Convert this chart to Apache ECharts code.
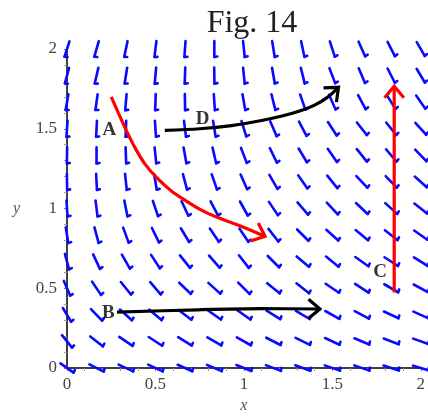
<!DOCTYPE html>
<html><head><meta charset="utf-8">
<script src="https://cdn.jsdelivr.net/npm/echarts@6/dist/echarts.min.js"></script>
<style>html,body{margin:0;padding:0;background:#fff}#c{width:428px;height:419px}</style>
</head><body><div id="c"></div>
<script>
// grid positions of the direction field
const fieldX = [0, 0.167, 0.333, 0.5, 0.667, 0.833, 1, 1.167, 1.333, 1.5, 1.667, 1.833, 2];
const fieldY = [0, 0.167, 0.333, 0.5, 0.667, 0.833, 1, 1.167, 1.333, 1.5, 1.667, 1.833, 2];
// arrow angle (degrees from straight down, + = toward right), one row per fieldY value
const angleRows = [
  [55, 63, 65, 65, 66, 67, 68, 69, 70, 71, 71, 72, 73],
  [39, 52, 56, 57, 58, 60, 61, 63, 64, 65, 67, 69, 70],
  [31, 44, 48, 50, 53, 55, 55, 58, 59, 61, 62, 65, 66],
  [23, 34, 39, 41, 46, 48, 45, 51, 52, 56, 57, 60, 62],
  [15, 25, 30, 33, 39, 41, 38, 45, 50, 51, 55, 57, 58],
  [9, 15, 20, 26, 31, 34, 34, 38, 45, 48, 51, 52, 55],
  [4, 7, 11, 19, 25, 28, 29, 34, 41, 43, 47, 48, 52],
  [1, 3, 6, 10, 15, 19, 24, 30, 35, 39, 43, 44, 48],
  [-1, 0, 2, 6, 10, 13, 21, 26, 31, 35, 39, 40, 44],
  [-4, -3, -2, 4, 7, 9, 17, 23, 28, 33, 38, 39, 42],
  [-10, -8, -5, -2, 1, 4, 10, 14, 19, 24, 28, 32, 35],
  [-15, -13, -9, -5, -2, 1, 6, 10, 14, 21, 23, 27, 31],
  [-18, -16, -12, -7, -4, 0, 6, 9, 12, 18, 24, 27, 30]
];
// curves
const curveA = [[0.25,1.70],[0.29,1.60],[0.335,1.49],[0.385,1.38],[0.44,1.28],[0.51,1.19],[0.59,1.11],[0.67,1.05],[0.76,0.99],[0.86,0.94],[0.98,0.89],[1.12,0.825]];
const curveB = [[0.283,0.35],[0.74,0.365],[1.1,0.372],[1.43,0.37]];
const curveC = [[1.85,0.474],[1.85,1.766]];
const curveD = [[0.553,1.49],[0.75,1.50],[0.93,1.52],[1.10,1.552],[1.21,1.578],[1.32,1.613],[1.40,1.648],[1.47,1.695],[1.535,1.76]];
const labelNames = ['A', 'B', 'C', 'D'];
const labelPos = [[0.24,1.49],[0.233,0.345],[1.77,0.60],[0.767,1.56]];
const xTicks = ['0', '0.5', '1', '1.5', '2'];

const fieldData = [];
fieldY.forEach((y, i) => fieldX.forEach((x, j) => fieldData.push([x, y, angleRows[i][j]])));

const chart = echarts.init(document.getElementById('c'));
const serif = '"Liberation Serif", "DejaVu Serif", serif';

function fieldArrow(params, api) {
  const c = api.coord([api.value(0), api.value(1)]);
  const th = api.value(2) * Math.PI / 180;
  const dx = Math.sin(th), dy = Math.cos(th);
  const L = 16;
  const x1 = c[0] - dx * L / 2, y1 = c[1] - dy * L / 2;
  const x2 = c[0] + dx * L / 2, y2 = c[1] + dy * L / 2;
  let bx = dy - 0.15 * dx, by = -dx - 0.15 * dy;
  const bl = Math.hypot(bx, by); bx /= bl; by /= bl;
  const st = {stroke: '#0a0aff', lineWidth: 2.6, lineCap: 'round', fill: null};
  return {type: 'group', children: [
    {type: 'line', shape: {x1, y1, x2, y2}, style: st},
    {type: 'line', shape: {x1: x2, y1: y2, x2: x2 + bx * 3, y2: y2 + by * 3}, style: st}
  ]};
}

function headSeries(curve, color) {
  const n = curve.length;
  return {
    type: 'custom', coordinateSystem: 'cartesian2d', silent: true, z: 5,
    data: [[curve[n-1][0], curve[n-1][1], curve[n-2][0], curve[n-2][1]]],
    encode: {x: 0, y: 1},
    renderItem(params, api) {
      const t = api.coord([api.value(0), api.value(1)]);
      const p = api.coord([api.value(2), api.value(3)]);
      let ux = t[0] - p[0], uy = t[1] - p[1];
      const l = Math.hypot(ux, uy); ux /= l; uy /= l;
      const a = 40 * Math.PI / 180, B = 15;
      const pts = [];
      [a, -a].forEach(s => {
        const rx = -(ux * Math.cos(s) - uy * Math.sin(s));
        const ry = -(ux * Math.sin(s) + uy * Math.cos(s));
        pts.push([t[0] + rx * B, t[1] + ry * B]);
      });
      return {type: 'polyline', shape: {points: [pts[0], t, pts[1]]},
        style: {stroke: color, lineWidth: 3.2, fill: null, lineJoin: 'miter'}};
    }
  };
}

function curveSeries(curve, color, sm) {
  return {type: 'line', data: curve, smooth: sm,
    symbol: 'none', silent: true, z: 4, lineStyle: {color: color, width: 3.2}};
}

chart.setOption({
  animation: false,
  title: {text: 'Fig. 14', left: 247, top: 3, textAlign: 'center',
    textStyle: {fontFamily: serif, fontSize: 32, fontWeight: 'normal', color: '#222'}},
  grid: {left: 67, right: 1, top: 49, bottom: 45},
  xAxis: {type: 'value', min: 0, max: 2, interval: 0.5,
    name: 'x', nameLocation: 'middle', nameGap: 30,
    nameTextStyle: {fontFamily: serif, fontStyle: 'italic', fontSize: 16, color: '#555'},
    axisLine: {show: true, lineStyle: {color: '#000', width: 1.5}},
    axisTick: {show: true, length: 3, lineStyle: {color: '#777'}},
    minorTick: {show: true, splitNumber: 5, length: 3, lineStyle: {color: '#999'}},
    splitLine: {show: false},
    axisLabel: {margin: 8, fontFamily: serif, fontSize: 17, color: '#444',
      formatter: v => xTicks[Math.round(v * 2)]}},
  yAxis: {type: 'value', min: 0, max: 2, interval: 0.5,
    name: 'y', nameLocation: 'middle', nameGap: 47, nameRotate: 0,
    nameTextStyle: {fontFamily: serif, fontStyle: 'italic', fontSize: 16, color: '#555'},
    axisLine: {show: true, lineStyle: {color: '#000', width: 1.5}},
    axisTick: {show: true, length: 3, lineStyle: {color: '#777'}},
    minorTick: {show: true, splitNumber: 5, length: 3, lineStyle: {color: '#999'}},
    splitLine: {show: false},
    axisLabel: {margin: 10, fontFamily: serif, fontSize: 17, color: '#444',
      formatter: v => xTicks[Math.round(v * 2)]}},
  series: [
    {type: 'custom', coordinateSystem: 'cartesian2d', data: fieldData, encode: {x: 0, y: 1},
      renderItem: fieldArrow, silent: true, clip: false, z: 2},
    curveSeries(curveA, '#ff0000', 0.3), headSeries(curveA, '#ff0000'),
    curveSeries(curveB, '#000000', 0.3), headSeries(curveB, '#000000'),
    curveSeries(curveC, '#ff0000', 0), headSeries(curveC, '#ff0000'),
    curveSeries(curveD, '#000000', 0.3), headSeries(curveD, '#000000'),
    {type: 'scatter', symbolSize: 0, silent: true, z: 6,
      data: labelPos.map((p, i) => ({value: p, name: labelNames[i]})),
      label: {show: true, position: 'inside', formatter: '{b}',
        fontFamily: serif, fontWeight: 'bold', fontSize: 19, color: '#000'}}
  ]
});
</script></body></html>
